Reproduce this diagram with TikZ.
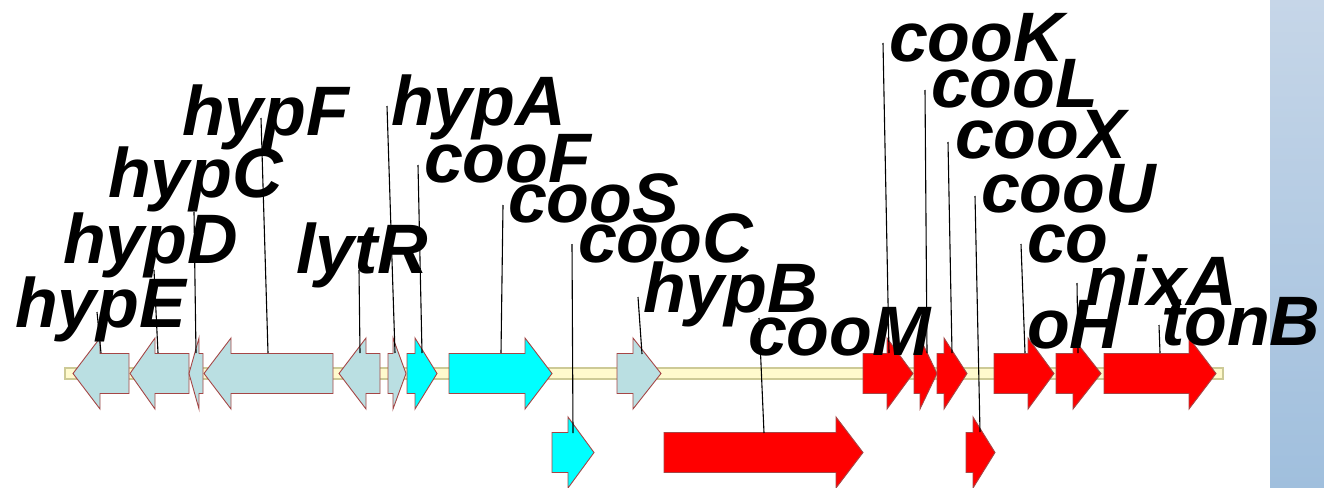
\documentclass[tikz,border=0pt]{standalone}
\usepackage{fontspec}
\setmainfont{Liberation Sans}
\definecolor{genelb}{RGB}{186,223,226}
\definecolor{genecy}{RGB}{0,255,255}
\definecolor{genered}{RGB}{255,0,0}
\definecolor{geneedge}{RGB}{165,70,70}
\definecolor{barfill}{RGB}{255,250,205}
\definecolor{baredge}{RGB}{205,202,150}
\definecolor{paneltop}{RGB}{198,214,232}
\definecolor{panelbot}{RGB}{160,191,221}
\newcommand\geneR[5]{% color, tail, base, tip, centre y
  \fill[#1,draw=geneedge,line width=0.9pt,line join=miter] (#2,#5-20) -- (#3,#5-20) -- (#3,#5-35.5) -- (#4,#5) -- (#3,#5+35.5) -- (#3,#5+20) -- (#2,#5+20) -- cycle;}
\newcommand\geneL[5]{% color, tail, base, tip, centre y
  \fill[#1,draw=geneedge,line width=0.9pt,line join=miter] (#2,#5-20) -- (#3,#5-20) -- (#3,#5-35.5) -- (#4,#5) -- (#3,#5+35.5) -- (#3,#5+20) -- (#2,#5+20) -- cycle;}
\tikzset{
  lbl/.style={anchor=base west,inner sep=0pt,outer sep=0pt,font=\fontsize{70}{70}\selectfont\bfseries\itshape},
  lead/.style={draw=black,line width=1.1pt}
}
\begin{document}
\begin{tikzpicture}[x=1pt,y=-1pt]
\useasboundingbox (0,0) rectangle (1324,487);
% right panel
\shade[top color=paneltop,bottom color=panelbot] (1270,0) rectangle (1324,487);
% backbone
\draw[fill=barfill,draw=baredge,line width=2.5pt] (65,368) rectangle (1223,379);
% top row genes
\geneL{genelb}{129}{100}{73}{373.5}
\geneL{genelb}{189}{155}{130}{373.5}
\geneL{genelb}{203}{199}{189}{373.5}
\geneL{genelb}{333}{231}{204}{373.5}
\geneL{genelb}{380}{366}{339}{373.5}
\geneR{genelb}{388}{393}{406}{373.5}
\geneR{genecy}{407}{415}{437}{373.5}
\geneR{genecy}{449}{525}{552}{373.5}
\geneR{genelb}{617}{633}{661}{373.5}
\geneR{genered}{863}{887}{913}{373.5}
\geneR{genered}{914}{920}{937}{373.5}
\geneR{genered}{937}{944}{967}{373.5}
\geneR{genered}{994}{1028}{1054}{373.5}
\geneR{genered}{1056}{1073}{1101}{373.5}
\geneR{genered}{1104}{1189}{1216}{373.5}
% bottom row genes
\geneR{genecy}{552}{568}{594}{452.5}
\geneR{genered}{664}{836}{863}{452.5}
\geneR{genered}{966}{973}{995}{452.5}
% labels
\node[lbl] (hypE) at (15,327) {hypE};
\node[lbl] (hypD) at (63,263) {hypD};
\node[lbl] (hypC) at (108,197) {hypC};
\node[lbl] (hypF) at (182,135) {hypF};
\node[lbl] (lytR) at (296,273) {lytR};
\node[lbl] (hypA) at (391,125) {hypA};
\node[lbl] (cooF) at (424,182) {cooF};
\node[lbl] (cooS) at (508,222) {cooS};
\node[lbl] (cooC) at (578,262) {cooC};
\node[lbl] (hypB) at (643,312) {hypB};
\node[lbl] (cooM) at (748,355) {cooM};
\node[lbl] (cooK) at (889,62) {cooK};
\node[lbl] (cooL) at (931,107) {cooL};
\node[lbl] (cooX) at (955,158) {cooX};
\node[lbl] (cooU) at (981,212) {cooU};
\node[lbl] (co) at (1027,262) {co};
\node[lbl] (oH) at (1027,348) {oH};
\node[lbl] (nixA) at (1085,305) {nixA};
\node[lbl] (tonB) at (1161,345) {tonB};
% leader-line end points
\coordinate (s1) at (97,312);   \coordinate (e1) at (101,353);
\coordinate (s2) at (154,270);  \coordinate (e2) at (158,353);
\coordinate (s3) at (194,212);  \coordinate (e3) at (196,353);
\coordinate (s4) at (261,118);  \coordinate (e4) at (268,353);
\coordinate (s5) at (359,270);  \coordinate (e5) at (360,353);
\coordinate (s6) at (387,106);  \coordinate (e6) at (395,353);
\coordinate (s7) at (418,165);  \coordinate (e7) at (422,353);
\coordinate (s8) at (503,205);  \coordinate (e8) at (501,353);
\coordinate (s9) at (572,244);  \coordinate (e9) at (573,433);
\coordinate (s10) at (638,297); \coordinate (e10) at (642,354);
\coordinate (s11) at (759,318); \coordinate (e11) at (764,433);
\coordinate (s12) at (883,43);  \coordinate (e12) at (889,353);
\coordinate (s13) at (925,90);  \coordinate (e13) at (927,353);
\coordinate (s14) at (948,142); \coordinate (e14) at (952,353);
\coordinate (s15) at (975,196); \coordinate (e15) at (980,432);
\coordinate (s16) at (1021,244);\coordinate (e16) at (1025,353);
\coordinate (s17) at (1077,283);\coordinate (e17) at (1078,353);
\coordinate (s18) at (1159,325);\coordinate (e18) at (1160,353);
\foreach \i in {1,...,18} {\draw[lead] (s\i) -- (e\i);}
\end{tikzpicture}
\end{document}
